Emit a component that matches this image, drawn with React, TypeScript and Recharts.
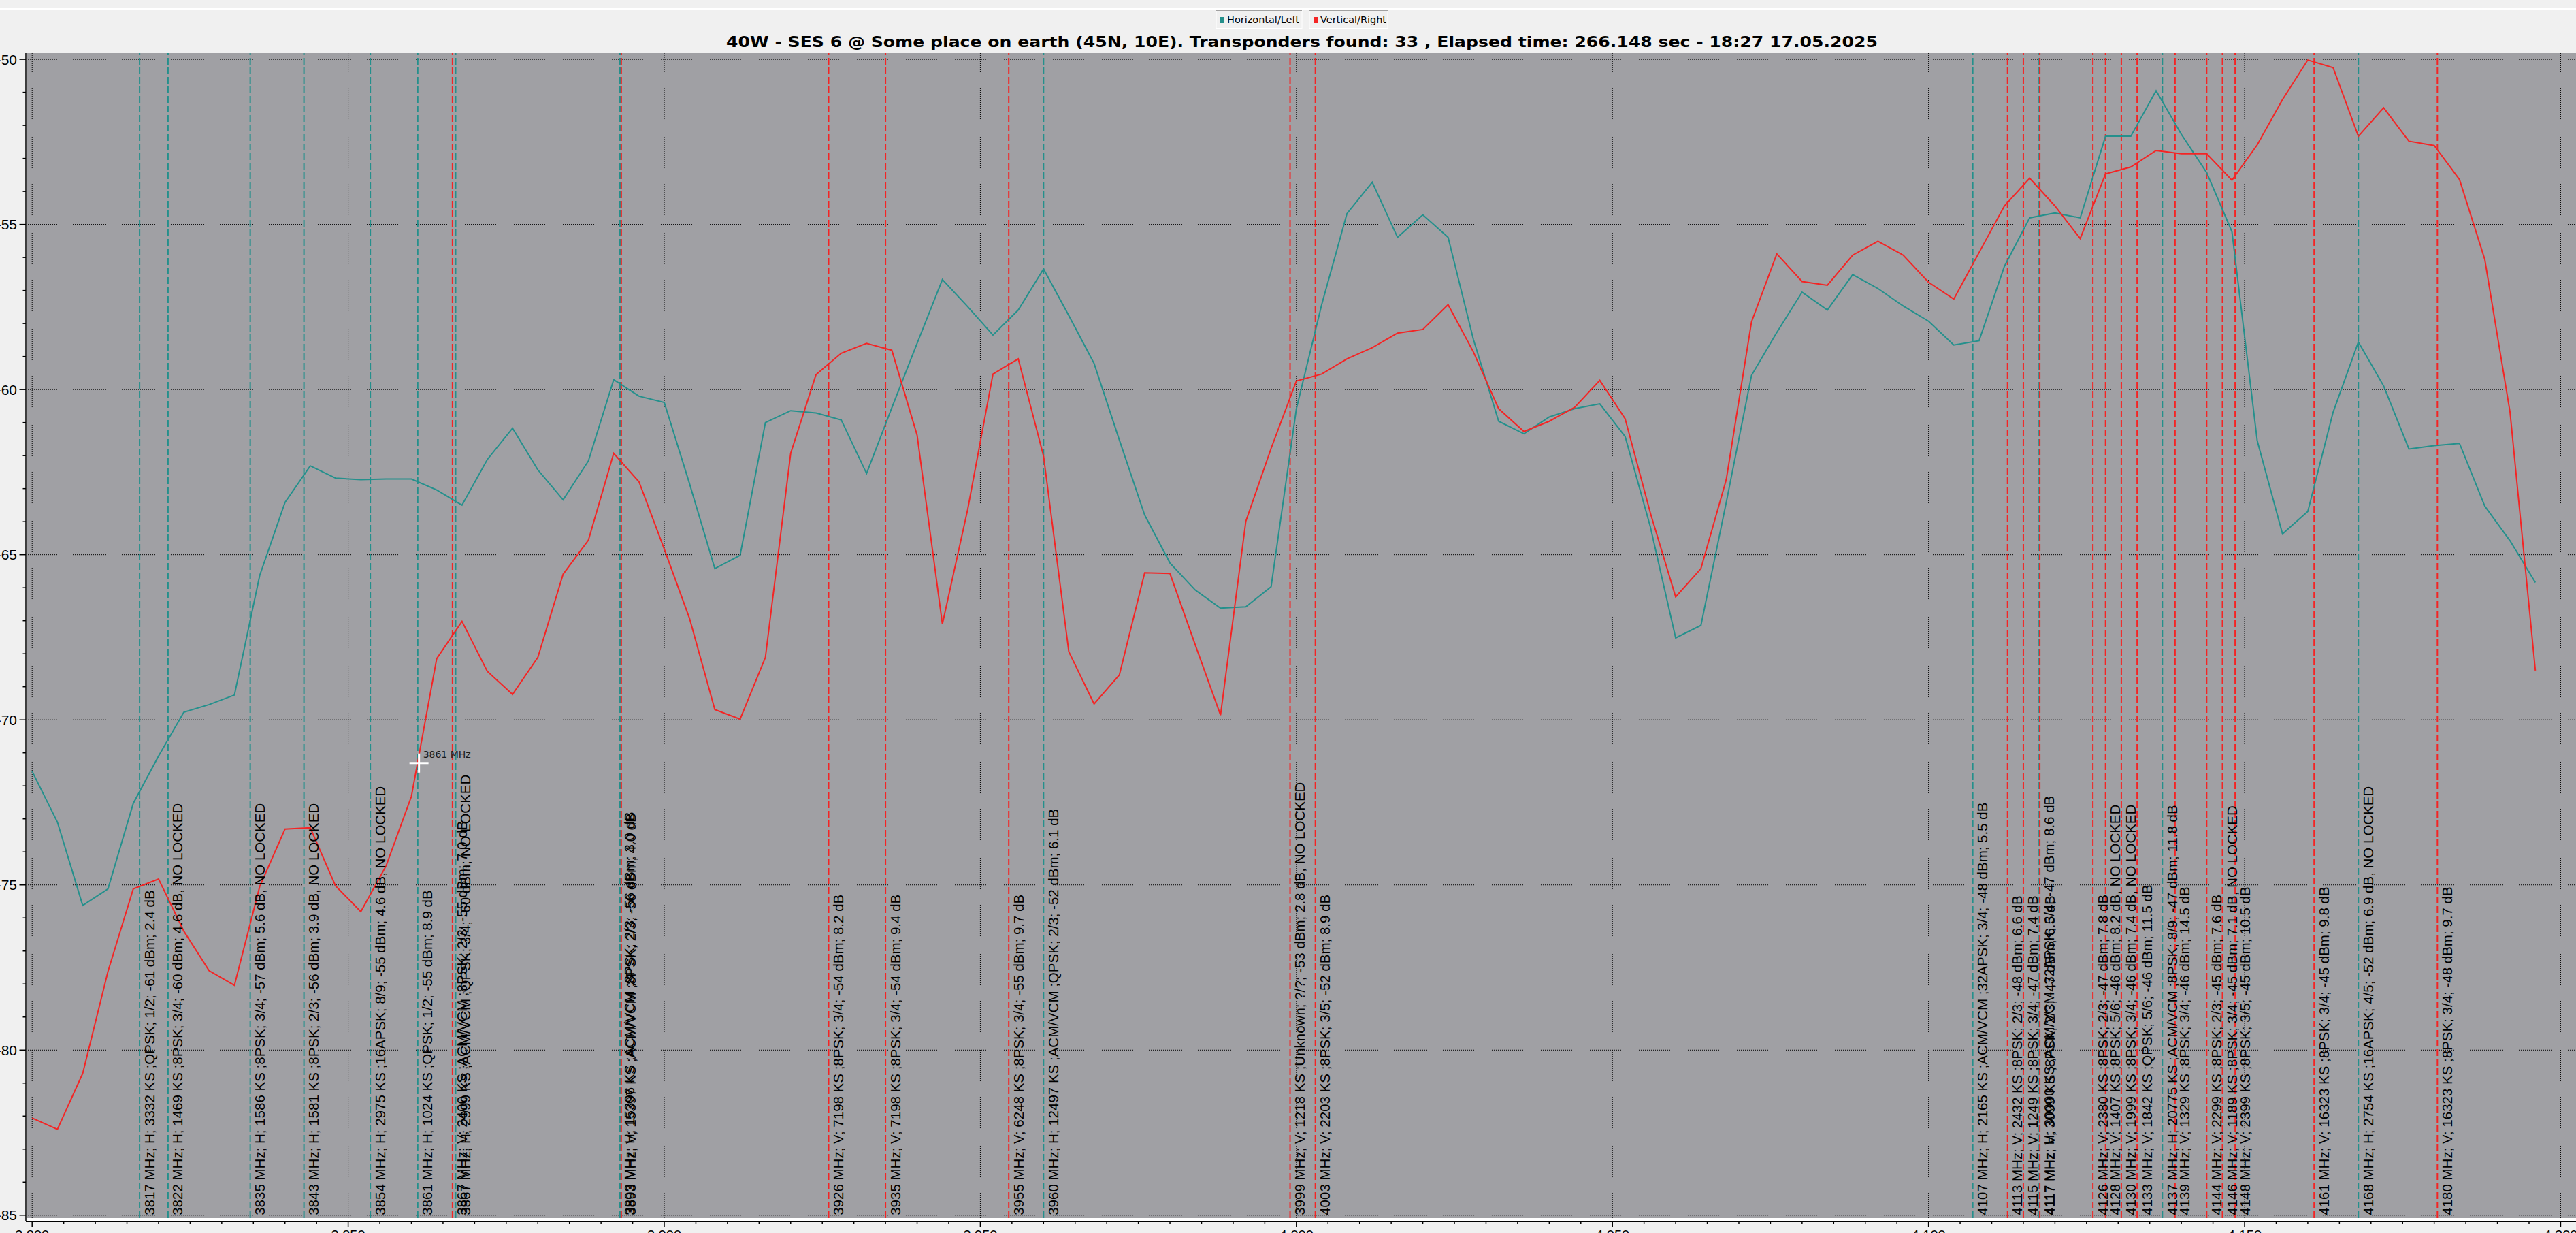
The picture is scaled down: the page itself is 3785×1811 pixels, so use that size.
import React from 'react';
import { LineChart, Line, XAxis, YAxis, CartesianGrid, ReferenceLine, ReferenceArea, ReferenceDot } from 'recharts';

const TITLE = '40W - SES 6 @ Some place on earth (45N, 10E). Transponders found: 33 , Elapsed time: 266.148 sec - 18:27 17.05.2025';
const SERIES_NAMES = ['Horizontal/Left', 'Vertical/Right'];
const COLOR_H = '#24908c';
const COLOR_V = '#f42424';
const PLOT_BG = '#a0a0a4';

const freqs = [3800,3804,3808,3812,3816,3820,3824,3828,3832,3836,3840,3844,3848,3852,3856,3860,3864,3868,3872,3876,3880,3884,3888,3892,3896,3900,3904,3908,3912,3916,3920,3924,3928,3932,3936,3940,3944,3948,3952,3956,3960,3964,3968,3972,3976,3980,3984,3988,3992,3996,4000,4004,4008,4012,4016,4020,4024,4028,4032,4036,4040,4044,4048,4052,4056,4060,4064,4068,4072,4076,4080,4084,4088,4092,4096,4100,4104,4108,4112,4116,4120,4124,4128,4132,4136,4140,4144,4148,4152,4156,4160,4164,4168,4172,4176,4180,4184,4188,4192,4196];

const horizontal = [-71.56,-73.10,-75.62,-75.12,-72.53,-71.10,-69.77,-69.54,-69.25,-65.63,-63.42,-62.31,-62.68,-62.73,-62.71,-62.71,-63.04,-63.50,-62.12,-61.17,-62.43,-63.34,-62.16,-59.70,-60.20,-60.39,-62.85,-65.42,-65.02,-61.00,-60.64,-60.71,-60.92,-62.54,-60.55,-58.60,-56.67,-57.49,-58.35,-57.59,-56.35,-57.76,-59.21,-61.53,-63.80,-65.25,-66.07,-66.62,-66.58,-65.97,-60.58,-57.43,-54.67,-53.72,-55.39,-54.71,-55.39,-58.48,-60.96,-61.34,-60.83,-60.58,-60.43,-61.42,-64.16,-67.52,-67.14,-63.42,-59.57,-58.27,-57.05,-57.59,-56.52,-56.94,-57.47,-57.93,-58.65,-58.52,-56.27,-54.80,-54.65,-54.80,-52.33,-52.33,-50.95,-52.27,-53.43,-55.22,-61.55,-64.37,-63.69,-60.69,-58.56,-59.89,-61.80,-61.70,-61.63,-63.53,-64.58,-65.84];

const vertical = [-82.06,-82.40,-80.71,-77.62,-75.12,-74.82,-76.40,-77.60,-78.04,-75.05,-73.31,-73.27,-75.03,-75.81,-74.42,-72.32,-68.15,-67.02,-68.53,-69.23,-68.11,-65.59,-64.56,-61.93,-62.79,-64.83,-66.93,-69.69,-69.98,-68.11,-61.93,-59.55,-58.90,-58.60,-58.81,-61.38,-67.10,-63.63,-59.53,-59.07,-62.01,-67.94,-69.52,-68.64,-65.55,-65.57,-67.73,-69.86,-63.99,-61.78,-59.74,-59.53,-59.07,-58.73,-58.29,-58.18,-57.43,-58.86,-60.58,-61.27,-60.96,-60.54,-59.72,-60.88,-63.74,-66.28,-65.42,-62.73,-57.95,-55.89,-56.73,-56.84,-55.93,-55.51,-55.93,-56.75,-57.26,-55.85,-54.44,-53.60,-54.44,-55.43,-53.47,-53.26,-52.76,-52.86,-52.86,-53.66,-52.59,-51.22,-50.02,-50.25,-52.33,-51.47,-52.48,-52.61,-53.64,-56.06,-60.69,-68.51];

// Transponders (marker position in MHz, polarisation, label)
const tpFreq = [3817,3821.5,3834.5,3843,3853.5,3861,3867,3893,3960,4107,4117.5,4137,4168,
  3866.5,3893.2,3926,3935,3954.5,3999,4003,4112.5,4115,4117.6,4126,4128,4130.5,4133,4139,4144,4146.5,4148.5,4161,4180.5];
const tpPol = ['H','H','H','H','H','H','H','H','H','H','H','H','H',
  'V','V','V','V','V','V','V','V','V','V','V','V','V','V','V','V','V','V','V','V'];
const tpText = [
  '3817 MHz; H; 3332 KS ;QPSK; 1/2; -61 dBm; 2.4 dB',
  '3822 MHz; H; 1469 KS ;8PSK; 3/4; -60 dBm; 4.6 dB, NO LOCKED',
  '3835 MHz; H; 1586 KS ;8PSK; 3/4; -57 dBm; 5.6 dB, NO LOCKED',
  '3843 MHz; H; 1581 KS ;8PSK; 2/3; -56 dBm; 3.9 dB, NO LOCKED',
  '3854 MHz; H; 2975 KS ;16APSK; 8/9; -55 dBm; 4.6 dB, NO LOCKED',
  '3861 MHz; H; 1024 KS ;QPSK; 1/2; -55 dBm; 8.9 dB',
  '3867 MHz; H; 2999 KS ;ACM/VCM ;QPSK; 3/4; -60 dBm; NO LOCKED',
  '3893 MHz; H; 15396 KS ;ACM/VCM ;8PSK; 2/3; -56 dBm; 3.0 dB',
  '3960 MHz; H; 12497 KS ;ACM/VCM ;QPSK; 2/3; -52 dBm; 6.1 dB',
  '4107 MHz; H; 2165 KS ;ACM/VCM ;32APSK; 3/4; -48 dBm; 5.5 dB',
  '4117 MHz; H; 30000 KS ;ACM/VCM ;32APSK; 3/4; -47 dBm; 8.6 dB',
  '4137 MHz; H; 20775 KS ;ACM/VCM ;8PSK; 8/9; -47 dBm; 11.8 dB',
  '4168 MHz; H; 2754 KS ;16APSK; 4/5; -52 dBm; 6.9 dB, NO LOCKED',
  '3867 MHz; V; 2400 KS ;ACM/VCM ;8PSK; 2/3; -55 dBm; 7.0 dB',
  '3893 MHz; V; 15397 KS ;ACM/VCM ;8PSK; 2/3; -56 dBm; 4.0 dB',
  '3926 MHz; V; 7198 KS ;8PSK; 3/4; -54 dBm; 8.2 dB',
  '3935 MHz; V; 7198 KS ;8PSK; 3/4; -54 dBm; 9.4 dB',
  '3955 MHz; V; 6248 KS ;8PSK; 3/4; -55 dBm; 9.7 dB',
  '3999 MHz; V; 1218 KS ;Unknown; ?/?; -53 dBm; 2.8 dB, NO LOCKED',
  '4003 MHz; V; 2203 KS ;8PSK; 3/5; -52 dBm; 8.9 dB',
  '4113 MHz; V; 2432 KS ;8PSK; 2/3; -48 dBm; 6.6 dB',
  '4115 MHz; V; 1249 KS ;8PSK; 3/4; -47 dBm; 7.4 dB',
  '4117 MHz; V; 3099 KS ;8PSK; 2/3; -47 dBm; 6.5 dB',
  '4126 MHz; V; 2380 KS ;8PSK; 2/3; -47 dBm; 7.8 dB',
  '4128 MHz; V; 1407 KS ;8PSK; 5/6; -46 dBm; 8.2 dB, NO LOCKED',
  '4130 MHz; V; 1999 KS ;8PSK; 3/4; -46 dBm; 7.4 dB, NO LOCKED',
  '4133 MHz; V; 1842 KS ;QPSK; 5/6; -46 dBm; 11.5 dB',
  '4139 MHz; V; 1329 KS ;8PSK; 3/4; -46 dBm; 14.5 dB',
  '4144 MHz; V; 2299 KS ;8PSK; 2/3; -45 dBm; 7.6 dB',
  '4146 MHz; V; 1189 KS ;8PSK; 3/4; -45 dBm; 7.1 dB, NO LOCKED',
  '4148 MHz; V; 2399 KS ;8PSK; 3/5; -45 dBm; 10.5 dB',
  '4161 MHz; V; 16323 KS ;8PSK; 3/4; -45 dBm; 9.8 dB',
  '4180 MHz; V; 16323 KS ;8PSK; 3/4; -48 dBm; 9.7 dB',
];

const cursorFreq = 3861.2;
const cursorLevel = -71.31;
const cursorText = '3861 MHz';

const xMajorTicks = [3800,3850,3900,3950,4000,4050,4100,4150,4200];
const xTickLabels = ['3,800','3,850','3,900','3,950','4,000','4,050','4,100','4,150','4,200'];
const yMajorTicks = [-50,-55,-60,-65,-70,-75,-80,-85];
const yTickLabels = ['-50','-55','-60','-65','-70','-75','-80','-85'];

// domains (the axis range slightly wider than the gridded range, as in the original plot)
const X_DOMAIN: [number, number] = [3799.009, 4202.43];
const Y_DOMAIN: [number, number] = [-85.1897, -49.8124];
const GRAY_X0 = 3799.225;
const GRAY_Y0 = -85.0866;

const xMinorTicks: number[] = [];
for (let i = 0; i < xMajorTicks.length - 1; i++) {
  for (let k = 0; k < 10; k++) xMinorTicks.push(xMajorTicks[i] + k * 5);
}
xMinorTicks.push(xMajorTicks[xMajorTicks.length - 1]);
const yMinorTicks: number[] = [];
for (let v = -85; v <= -50; v++) yMinorTicks.push(v);

const data = freqs.map((f, i) => ({ f, h: horizontal[i], v: vertical[i] }));

const LABEL_FONT = "'Liberation Sans', Arial, sans-serif";

const XTick = (props: any) => {
  const { x, y, payload } = props;
  const val = payload.value;
  const mi = xMajorTicks.indexOf(val);
  const major = mi >= 0;
  return (
    <g>
      <line x1={x} x2={x} y1={y} y2={y + (major ? 8 : 4)} stroke="#000" strokeWidth={1.5} />
      {major && (
        <text x={x} y={y + 27} textAnchor="middle" fontFamily={LABEL_FONT} fontSize={20} fill="#000">
          {xTickLabels[mi]}
        </text>
      )}
    </g>
  );
};

const YTick = (props: any) => {
  const { x, y, payload } = props;
  const val = payload.value;
  const mi = yMajorTicks.indexOf(val);
  const major = mi >= 0;
  return (
    <g>
      <line x1={x - (major ? 9.5 : 4.5)} x2={x} y1={y} y2={y} stroke="#000" strokeWidth={1.5} />
      {major && (
        <text x={x - 13} y={y} dominantBaseline="central" textAnchor="end" fontFamily={LABEL_FONT} fontSize={21} fill="#000">
          {yTickLabels[mi]}
        </text>
      )}
    </g>
  );
};

const TpLabel = (text: string) => (p: any) => {
  if (p.cx == null || p.cy == null) return <g />;
  return (
    <text
      transform={`translate(${p.cx + 21.5}, ${p.cy}) rotate(-90)`}
      x={0}
      y={0}
      fontFamily={LABEL_FONT}
      fontSize={20.5}
      fill="#000"
    >
      {text}
    </text>
  );
};

const CursorShape = (p: any) => {
  if (p.cx == null || p.cy == null) return <g />;
  const { cx, cy } = p;
  return (
    <g>
      <line x1={cx - 14} x2={cx + 14} y1={cy} y2={cy} stroke="#fff" strokeWidth={3} />
      <line x1={cx} x2={cx} y1={cy - 14} y2={cy + 14} stroke="#fff" strokeWidth={3} />
      <text x={cx + 6} y={cy - 8} fontFamily="'DejaVu Sans', sans-serif" fontSize={14} fill="#1a1a1a">
        {cursorText}
      </text>
    </g>
  );
};

const hIdx = tpPol.map((p, i) => (p === 'H' ? i : -1)).filter((i) => i >= 0);
const vIdx = tpPol.map((p, i) => (p === 'V' ? i : -1)).filter((i) => i >= 0);

export default function App() {
  return (
    <div style={{ position: 'relative', width: 3785, height: 1811, background: '#f0f0f0', overflow: 'hidden' }}>
      <style>{'html,body{margin:0;padding:0;background:#f0f0f0;}'}</style>
      <svg width={3785} height={78} style={{ position: 'absolute', left: 0, top: 0 }}>
        <rect x={0} y={12} width={3785} height={2} fill="#ffffff" />
        {/* legend */}
        <rect x={1787} y={14.5} width={126} height={27} fill="#f0f0f0" stroke="#ffffff" strokeWidth={1} />
        <line x1={1787} x2={1913} y1={15} y2={15} stroke="#a0a0a0" strokeWidth={2} />
        <rect x={1792} y={25} width={7} height={9} fill={COLOR_H} />
        <text x={1803} y={34} fontFamily="'DejaVu Sans', sans-serif" fontSize={13.5} fill="#000" textLength={106} lengthAdjust="spacingAndGlyphs">
          {SERIES_NAMES[0]}
        </text>
        <rect x={1924} y={14.5} width={115} height={27} fill="#f0f0f0" stroke="#ffffff" strokeWidth={1} />
        <line x1={1924} x2={2039} y1={15} y2={15} stroke="#a0a0a0" strokeWidth={2} />
        <rect x={1930} y={25} width={7} height={9} fill={COLOR_V} />
        <text x={1940} y={34} fontFamily="'DejaVu Sans', sans-serif" fontSize={13.5} fill="#000" textLength={97} lengthAdjust="spacingAndGlyphs">
          {SERIES_NAMES[1]}
        </text>
        {/* title */}
        <text x={1067} y={68.5} fontFamily="'DejaVu Sans', sans-serif" fontWeight="bold" fontSize={21} fill="#000" textLength={1692} lengthAdjust="spacingAndGlyphs">
          {TITLE}
        </text>
      </svg>
      <div style={{ position: 'absolute', left: 0, top: 0 }}>
        <LineChart width={3785} height={1811} data={data} margin={{ top: 78, right: 0, bottom: 0, left: 0 }}>
          <CartesianGrid
            fill={PLOT_BG}
            fillOpacity={1}
            stroke="#000"
            strokeDasharray="1 2"
            horizontalValues={yMajorTicks}
            verticalValues={xMajorTicks}
          />
          <ReferenceArea x1={X_DOMAIN[0]} x2={GRAY_X0} y1={Y_DOMAIN[0]} y2={Y_DOMAIN[1]} fill="#ffffff" fillOpacity={1} stroke="none" />
          <ReferenceArea x1={X_DOMAIN[0]} x2={X_DOMAIN[1]} y1={Y_DOMAIN[0]} y2={GRAY_Y0} fill="#ffffff" fillOpacity={1} stroke="none" />
          <XAxis
            type="number"
            dataKey="f"
            domain={X_DOMAIN}
            allowDataOverflow
            ticks={xMinorTicks}
            interval={0}
            tickSize={0}
            tickMargin={0}
            tickLine={false}
            axisLine={{ stroke: '#000', strokeWidth: 2 }}
            tick={<XTick />}
            height={17}
          />
          <YAxis
            type="number"
            domain={Y_DOMAIN}
            allowDataOverflow
            ticks={yMinorTicks}
            interval={0}
            tickSize={0}
            tickMargin={0}
            tickLine={false}
            axisLine={{ stroke: '#000', strokeWidth: 1.5 }}
            tick={<YTick />}
            width={38}
          />
          {hIdx.map((i) => (
            <ReferenceLine
              key={'lh' + i}
              segment={[{ x: tpFreq[i], y: GRAY_Y0 }, { x: tpFreq[i], y: Y_DOMAIN[1] }]}
              stroke={COLOR_H}
              strokeWidth={2}
              strokeDasharray="10 4"
            />
          ))}
          {vIdx.map((i) => (
            <ReferenceLine
              key={'lv' + i}
              segment={[{ x: tpFreq[i], y: GRAY_Y0 }, { x: tpFreq[i], y: Y_DOMAIN[1] }]}
              stroke={COLOR_V}
              strokeWidth={2}
              strokeDasharray="10 4"
            />
          ))}
          <Line type="linear" dataKey="h" name={SERIES_NAMES[0]} stroke={COLOR_H} strokeWidth={2} dot={false} activeDot={false} isAnimationActive={false} />
          <Line type="linear" dataKey="v" name={SERIES_NAMES[1]} stroke={COLOR_V} strokeWidth={2} dot={false} activeDot={false} isAnimationActive={false} />
          {tpFreq.map((f, i) => (
            <ReferenceDot key={'t' + i} x={f} y={-85} r={0} shape={TpLabel(tpText[i])} />
          ))}
          <ReferenceDot x={cursorFreq} y={cursorLevel} r={0} shape={CursorShape} />
        </LineChart>
      </div>
    </div>
  );
}
